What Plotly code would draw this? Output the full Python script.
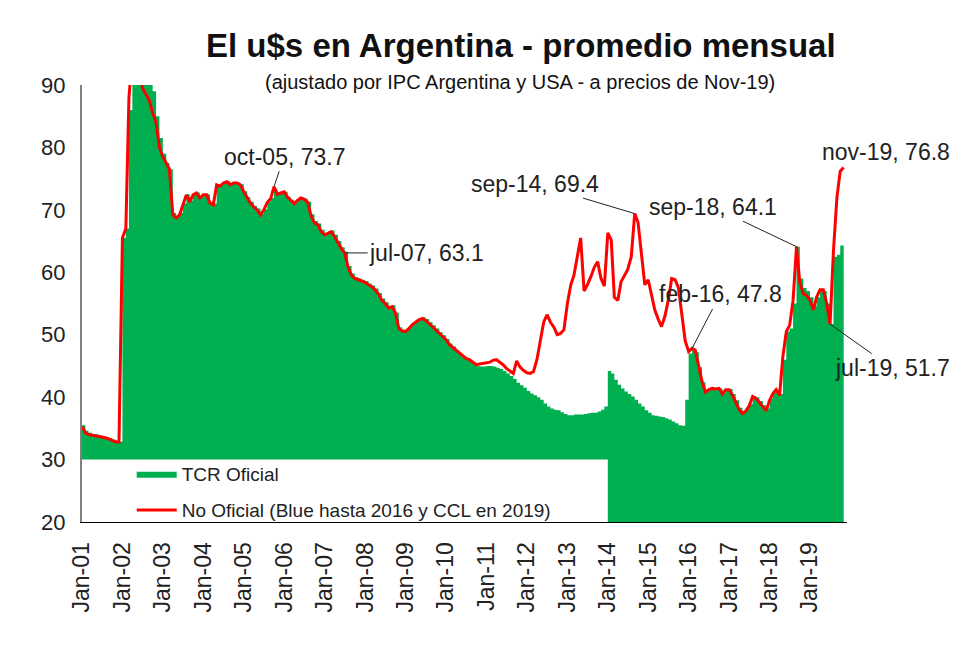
import pandas as pd
import plotly.graph_objects as go

# ---- data (monthly, Jan-2001 .. Nov-2019) ----
months = [d.strftime("%Y-%m-%d") for d in pd.date_range("2001-01-01", "2019-11-01", freq="MS")]

no_oficial = [
    35.3, 34.3, 34.0, 33.9, 33.9, 33.8, 33.6, 33.5, 33.3, 33.0, 32.8, 32.8,  # 2001
    65.5, 67.0, 88.0, 95.0, 97.0, 94.0, 89.5, 88.5, 87.5, 85.5, 84.0, 80.0,  # 2002
    78.5, 77.5, 76.5, 69.2, 68.7, 69.2, 70.8, 72.4, 71.3, 72.4, 72.7, 71.9,  # 2003
    72.4, 72.4, 71.1, 70.8, 74.0, 73.8, 74.3, 74.5, 74.0, 74.3, 74.3, 74.0,  # 2004
    72.9, 71.9, 71.1, 70.5, 70.0, 69.2, 70.0, 71.2, 71.8, 73.7, 72.5, 72.7,  # 2005
    72.9, 72.0, 71.5, 71.0, 71.5, 71.9, 71.7, 71.2, 69.0, 67.9, 67.6, 66.5,  # 2006
    66.0, 66.3, 66.5, 65.7, 64.7, 63.8, 63.1, 60.8, 59.5, 59.0, 58.8, 58.6,  # 2007
    58.4, 58.0, 57.7, 57.2, 56.5, 55.5, 55.0, 54.3, 54.5, 53.5, 51.0, 50.6,  # 2008
    50.5, 51.0, 51.6, 52.0, 52.4, 52.6, 52.3, 51.8, 51.3, 50.8, 50.2, 49.7,  # 2009
    49.2, 48.4, 48.0, 47.5, 47.0, 46.6, 46.2, 46.0, 45.6, 45.2, 45.3, 45.4,  # 2010
    45.4, 45.6, 45.9, 46.0, 45.6, 45.2, 44.6, 44.2, 43.8, 45.8, 44.8, 44.3,  # 2011
    43.9, 43.8, 44.1, 46.0, 49.3, 52.0, 53.2, 52.0, 51.2, 50.0, 50.2, 50.8,  # 2012
    55.0, 58.0, 59.5, 62.5, 65.5, 57.0, 58.0, 59.3, 60.8, 61.7, 59.0, 57.8,  # 2013
    66.3, 65.2, 56.0, 55.5, 58.5, 59.5, 60.5, 62.5, 69.4, 68.0, 62.5, 58.0,  # 2014
    58.8, 56.0, 54.0, 52.5, 51.3, 53.0, 55.5, 59.0, 58.8, 57.5, 53.0, 49.0,  # 2015
    47.3, 47.8, 47.5, 45.0, 42.5, 40.8, 41.2, 41.4, 41.3, 41.4, 40.5, 41.2,  # 2016
    41.2, 40.3, 39.2, 38.0, 37.4, 37.8, 38.6, 40.1, 39.8, 39.2, 38.5, 37.8,  # 2017
    39.5, 40.6, 41.2, 40.3, 46.5, 50.5, 51.5, 55.5, 64.1, 58.3, 56.6, 56.3,  # 2018
    55.5, 54.0, 56.0, 57.2, 57.2, 55.0, 51.7, 63.5, 72.0, 76.2, 76.8,        # 2019
]

tcr_oficial = [
    35.5, 34.6, 34.3, 34.1, 34.0, 33.9, 33.7, 33.6, 33.4, 33.2, 33.0, 32.9,  # 2001
    65.5, 67.0, 86.0, 93.0, 96.0, 97.0, 95.0, 93.0, 91.0, 89.0, 85.0, 81.5,  # 2002
    79.0, 77.5, 76.5, 69.5, 69.0, 69.5, 71.0, 72.5, 71.5, 72.5, 72.8, 72.0,  # 2003
    72.5, 72.5, 71.3, 71.0, 74.0, 74.0, 74.4, 74.6, 74.2, 74.4, 74.4, 74.1,  # 2004
    73.0, 72.0, 71.3, 70.6, 70.2, 69.4, 70.1, 71.3, 71.9, 73.3, 72.6, 72.8,  # 2005
    72.9, 72.1, 71.6, 71.1, 71.6, 72.0, 71.8, 71.3, 69.3, 68.2, 67.8, 66.8,  # 2006
    66.3, 66.5, 66.7, 66.0, 65.0, 64.0, 63.3, 61.0, 59.8, 59.2, 59.0, 58.8,  # 2007
    58.6, 58.2, 57.9, 57.4, 56.7, 55.8, 55.2, 54.6, 54.7, 53.5, 51.2, 50.8,  # 2008
    50.7, 51.2, 51.8, 52.2, 52.6, 52.8, 52.5, 52.0, 51.5, 51.0, 50.4, 49.9,  # 2009
    49.3, 48.6, 48.1, 47.5, 47.0, 46.6, 46.1, 45.8, 45.4, 45.0, 44.9, 44.9,  # 2010
    45.0, 45.0, 44.9, 44.7, 44.5, 44.2, 43.8, 43.4, 42.9, 42.3, 41.9, 41.5,  # 2011
    41.0, 40.6, 40.3, 40.0, 39.6, 39.0, 38.5, 38.2, 38.0, 37.9, 37.6, 37.3,  # 2012
    37.1, 37.1, 37.2, 37.2, 37.2, 37.3, 37.4, 37.5, 37.5, 37.7, 38.0, 38.5,  # 2013
    44.2, 43.8, 42.8, 42.0, 41.4, 40.9, 40.5, 40.1, 39.6, 39.0, 38.5, 37.9,  # 2014
    37.5, 37.1, 37.0, 36.9, 36.8, 36.6, 36.4, 36.1, 35.8, 35.5, 35.4, 39.6,  # 2015
    47.0, 47.8, 47.2, 44.8, 42.4, 41.0, 41.3, 41.5, 41.3, 41.4, 40.7, 41.2,  # 2016
    41.3, 40.5, 39.5, 38.3, 37.8, 38.2, 38.9, 40.2, 40.0, 39.4, 38.7, 38.2,  # 2017
    39.8, 40.8, 41.2, 40.5, 46.0, 50.5, 51.0, 55.0, 64.1, 59.0, 57.5, 57.0,  # 2018
    56.0, 54.5, 56.0, 57.0, 57.0, 55.0, 51.7, 62.5, 62.8, 64.3, 64.4,        # 2019
]

# annotated points: (month, label, ax, ay, showarrow)
callouts = [
    ("2005-10-01", "oct-05", 10, -30, True),
    ("2007-07-01", "jul-07", 82, 0, True),
    ("2014-09-01", "sep-14", -100, -30, True),
    ("2018-09-01", "sep-18", -84, -40, True),
    ("2016-02-01", "feb-16", 28, -54, True),
    ("2019-07-01", "jul-19", 62, 44, True),
    ("2019-11-01", "nov-19", 42, -15, False),
]

FONT = "Liberation Sans, Arial, sans-serif"
GREEN = "#00B050"
RED = "#FF0000"

fig = go.Figure()
fig.add_trace(go.Scatter(
    x=months, y=tcr_oficial, name="TCR Oficial", mode="lines",
    line=dict(width=0, color=GREEN, shape="hv"), fill="tozeroy", fillcolor=GREEN,
    legend="legend", hoverinfo="skip"))
fig.add_trace(go.Scatter(
    x=months, y=no_oficial, name="No Oficial (Blue hasta 2016 y CCL en 2019)", mode="lines",
    line=dict(width=3, color=RED), legend="legend2"))

# white legend panel (covers lower band up to Jan-14, as in the original)
fig.add_shape(type="rect", xref="x", yref="y", x0=months[0], x1="2014-01-01", y0=20, y1=30,
              fillcolor="white", line=dict(width=0), layer="above")

annotations = []
for m, lab, ax, ay, arrow in callouts:
    v = no_oficial[months.index(m)]
    a = dict(x=m, y=v, xref="x", yref="y", text=f"{lab}, {v}",
             font=dict(family=FONT, size=23, color="#222222"))
    if arrow:
        a.update(showarrow=True, arrowhead=0, arrowwidth=1, arrowcolor="#222222",
                 ax=ax, ay=ay, standoff=0)
    else:
        a.update(showarrow=False, xshift=ax, yshift=-ay)
    annotations.append(a)

annotations.append(dict(text="<b>El u$s en Argentina - promedio mensual</b>", xref="paper", yref="paper",
                        x=0.574, y=1.09, showarrow=False, xanchor="center", yanchor="middle",
                        font=dict(family=FONT, size=33, color="#111111")))
annotations.append(dict(text="(ajustado por IPC Argentina y USA - a precios de Nov-19)", xref="paper",
                        yref="paper", x=0.572, y=1.007, showarrow=False, xanchor="center",
                        yanchor="middle", font=dict(family=FONT, size=20, color="#111111")))

fig.update_layout(
    width=980, height=654,
    margin=dict(l=74, r=141, t=77, b=140),
    paper_bgcolor="white", plot_bgcolor="white",
    font=dict(family=FONT, color="#222222"),
    annotations=annotations,
    legend=dict(x=0.065, y=0.11, xanchor="left", yanchor="middle", bgcolor="rgba(0,0,0,0)",
                itemwidth=40, font=dict(family=FONT, size=19, color="#222222")),
    legend2=dict(x=0.065, y=0.027, xanchor="left", yanchor="middle", bgcolor="rgba(0,0,0,0)",
                 itemwidth=40, font=dict(family=FONT, size=19, color="#222222")),
    showlegend=True,
)
fig.update_xaxes(type="date", range=["2001-01-01", "2019-12-01"], dtick="M12", tick0="2001-01-01",
                 tickformat="%b-%y", tickangle=-90, showgrid=False, zeroline=False,
                 showline=True, linecolor="#000000", linewidth=1, ticks="",
                 ticklabelstandoff=10,
                 tickfont=dict(family=FONT, size=23, color="#222222"))
fig.update_yaxes(range=[20, 90], dtick=10, showgrid=False, zeroline=False,
                 showline=True, linecolor="#808080", linewidth=2, ticks="",
                 ticklabelstandoff=10,
                 tickfont=dict(family=FONT, size=22, color="#222222"))

fig.write_html("out.html")
